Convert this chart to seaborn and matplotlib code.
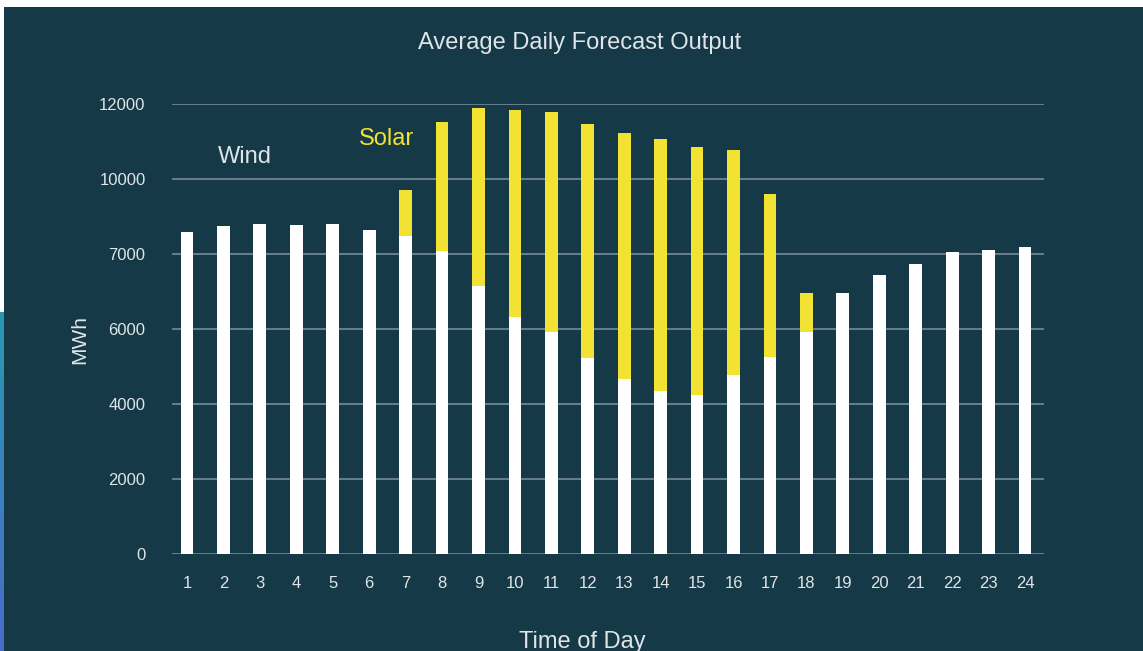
import numpy as np
import pandas as pd
import matplotlib
matplotlib.use("Agg")
import matplotlib.pyplot as plt
from matplotlib.patches import Rectangle
import seaborn as sns

# Hourly forecast output (MWh)
hours = [str(h) for h in range(1, 25)]
wind = [8580, 8750, 8800, 8770, 8800, 8640, 8490, 8090, 7160, 6330, 5930, 5220,
        4660, 4360, 4230, 4770, 5260, 5930, 6950, 7440, 7730, 8060, 8120, 8200]
solar = [0, 0, 0, 0, 0, 0, 1220, 3420, 4730, 5510, 5870, 6260,
         6560, 6720, 6630, 6000, 4330, 1020, 0, 0, 0, 0, 0, 0]
ytick_values = [0, 2000, 4000, 6000, 8000, 10000, 12000]
ytick_labels = ["0", "2000", "4000", "6000", "7000", "10000", "12000"]

BG = "#163948"
YELLOW = "#f2e234"
TEXT = "#dfe5e8"
GRID = "#7d929c"

sns.set_theme(style="white")
plt.rcParams["font.family"] = ["Liberation Sans", "DejaVu Sans"]

df = pd.DataFrame({"hour": hours, "wind": wind, "solar": solar})
df["total"] = df["wind"] + df["solar"]

fig = plt.figure(figsize=(11.43, 6.51), dpi=100, facecolor=BG)
ax = fig.add_axes([172 / 1143, 1 - 554 / 651, (1044 - 172) / 1143, (554 - 104) / 651])
ax.set_facecolor(BG)

# stacked bars: solar on top of wind
sns.barplot(data=df, x="hour", y="total", color=YELLOW, saturation=1,
            width=0.35, linewidth=0, ax=ax, zorder=3)
sns.barplot(data=df, x="hour", y="wind", color="white", saturation=1,
            width=0.35, linewidth=0, ax=ax, zorder=4)

ax.set_xlim(-0.41, 23.52)
ax.set_ylim(0, 12000)
ax.set_yticks(ytick_values)
ax.set_yticklabels(ytick_labels)
for y in ytick_values:
    ax.axhline(y, color=GRID, lw=1.1, zorder=1)

for s in ax.spines.values():
    s.set_visible(False)
ax.tick_params(axis="both", length=0, colors=TEXT, labelsize=12)
ax.tick_params(axis="y", pad=19)
ax.tick_params(axis="x", pad=16)
ax.set_xlabel("")
ax.set_ylabel("")

ax.text(1.6, 10590, "Wind", color=TEXT, fontsize=17, ha="center", va="center")
ax.text(5.47, 11070, "Solar", color=YELLOW, fontsize=17, ha="center", va="center")

fig.text(580 / 1143, 1 - 43 / 651, "Average Daily Forecast Output", color=TEXT,
         fontsize=17, ha="center", va="center")
fig.text(80 / 1143, 1 - 340 / 651, "MWh", color=TEXT, fontsize=15,
         rotation=90, ha="center", va="center")
fig.text(582 / 1143, 1 - 631 / 651, "Time of Day", color=TEXT, fontsize=17,
         ha="center", va="top")

# screen border: white strip along top and left, blue strip lower left
fig.add_artist(Rectangle((0, 1 - 7 / 651), 1, 7 / 651, transform=fig.transFigure,
                         facecolor="white", edgecolor="none"))
fig.add_artist(Rectangle((0, 0), 4 / 1143, 1, transform=fig.transFigure,
                         facecolor="white", edgecolor="none"))
grad_ax = fig.add_axes([0, 0, 4 / 1143, 1 - 312 / 651])
grad_ax.set_zorder(10)
grad = np.linspace(0, 1, 200).reshape(-1, 1)
grad_ax.imshow(grad, aspect="auto", origin="lower",
               cmap=matplotlib.colors.LinearSegmentedColormap.from_list(
                   "edge", ["#4a6cc9", "#2a98b2"]))
grad_ax.set_axis_off()

fig.savefig("out.png", dpi=100, facecolor=BG)
